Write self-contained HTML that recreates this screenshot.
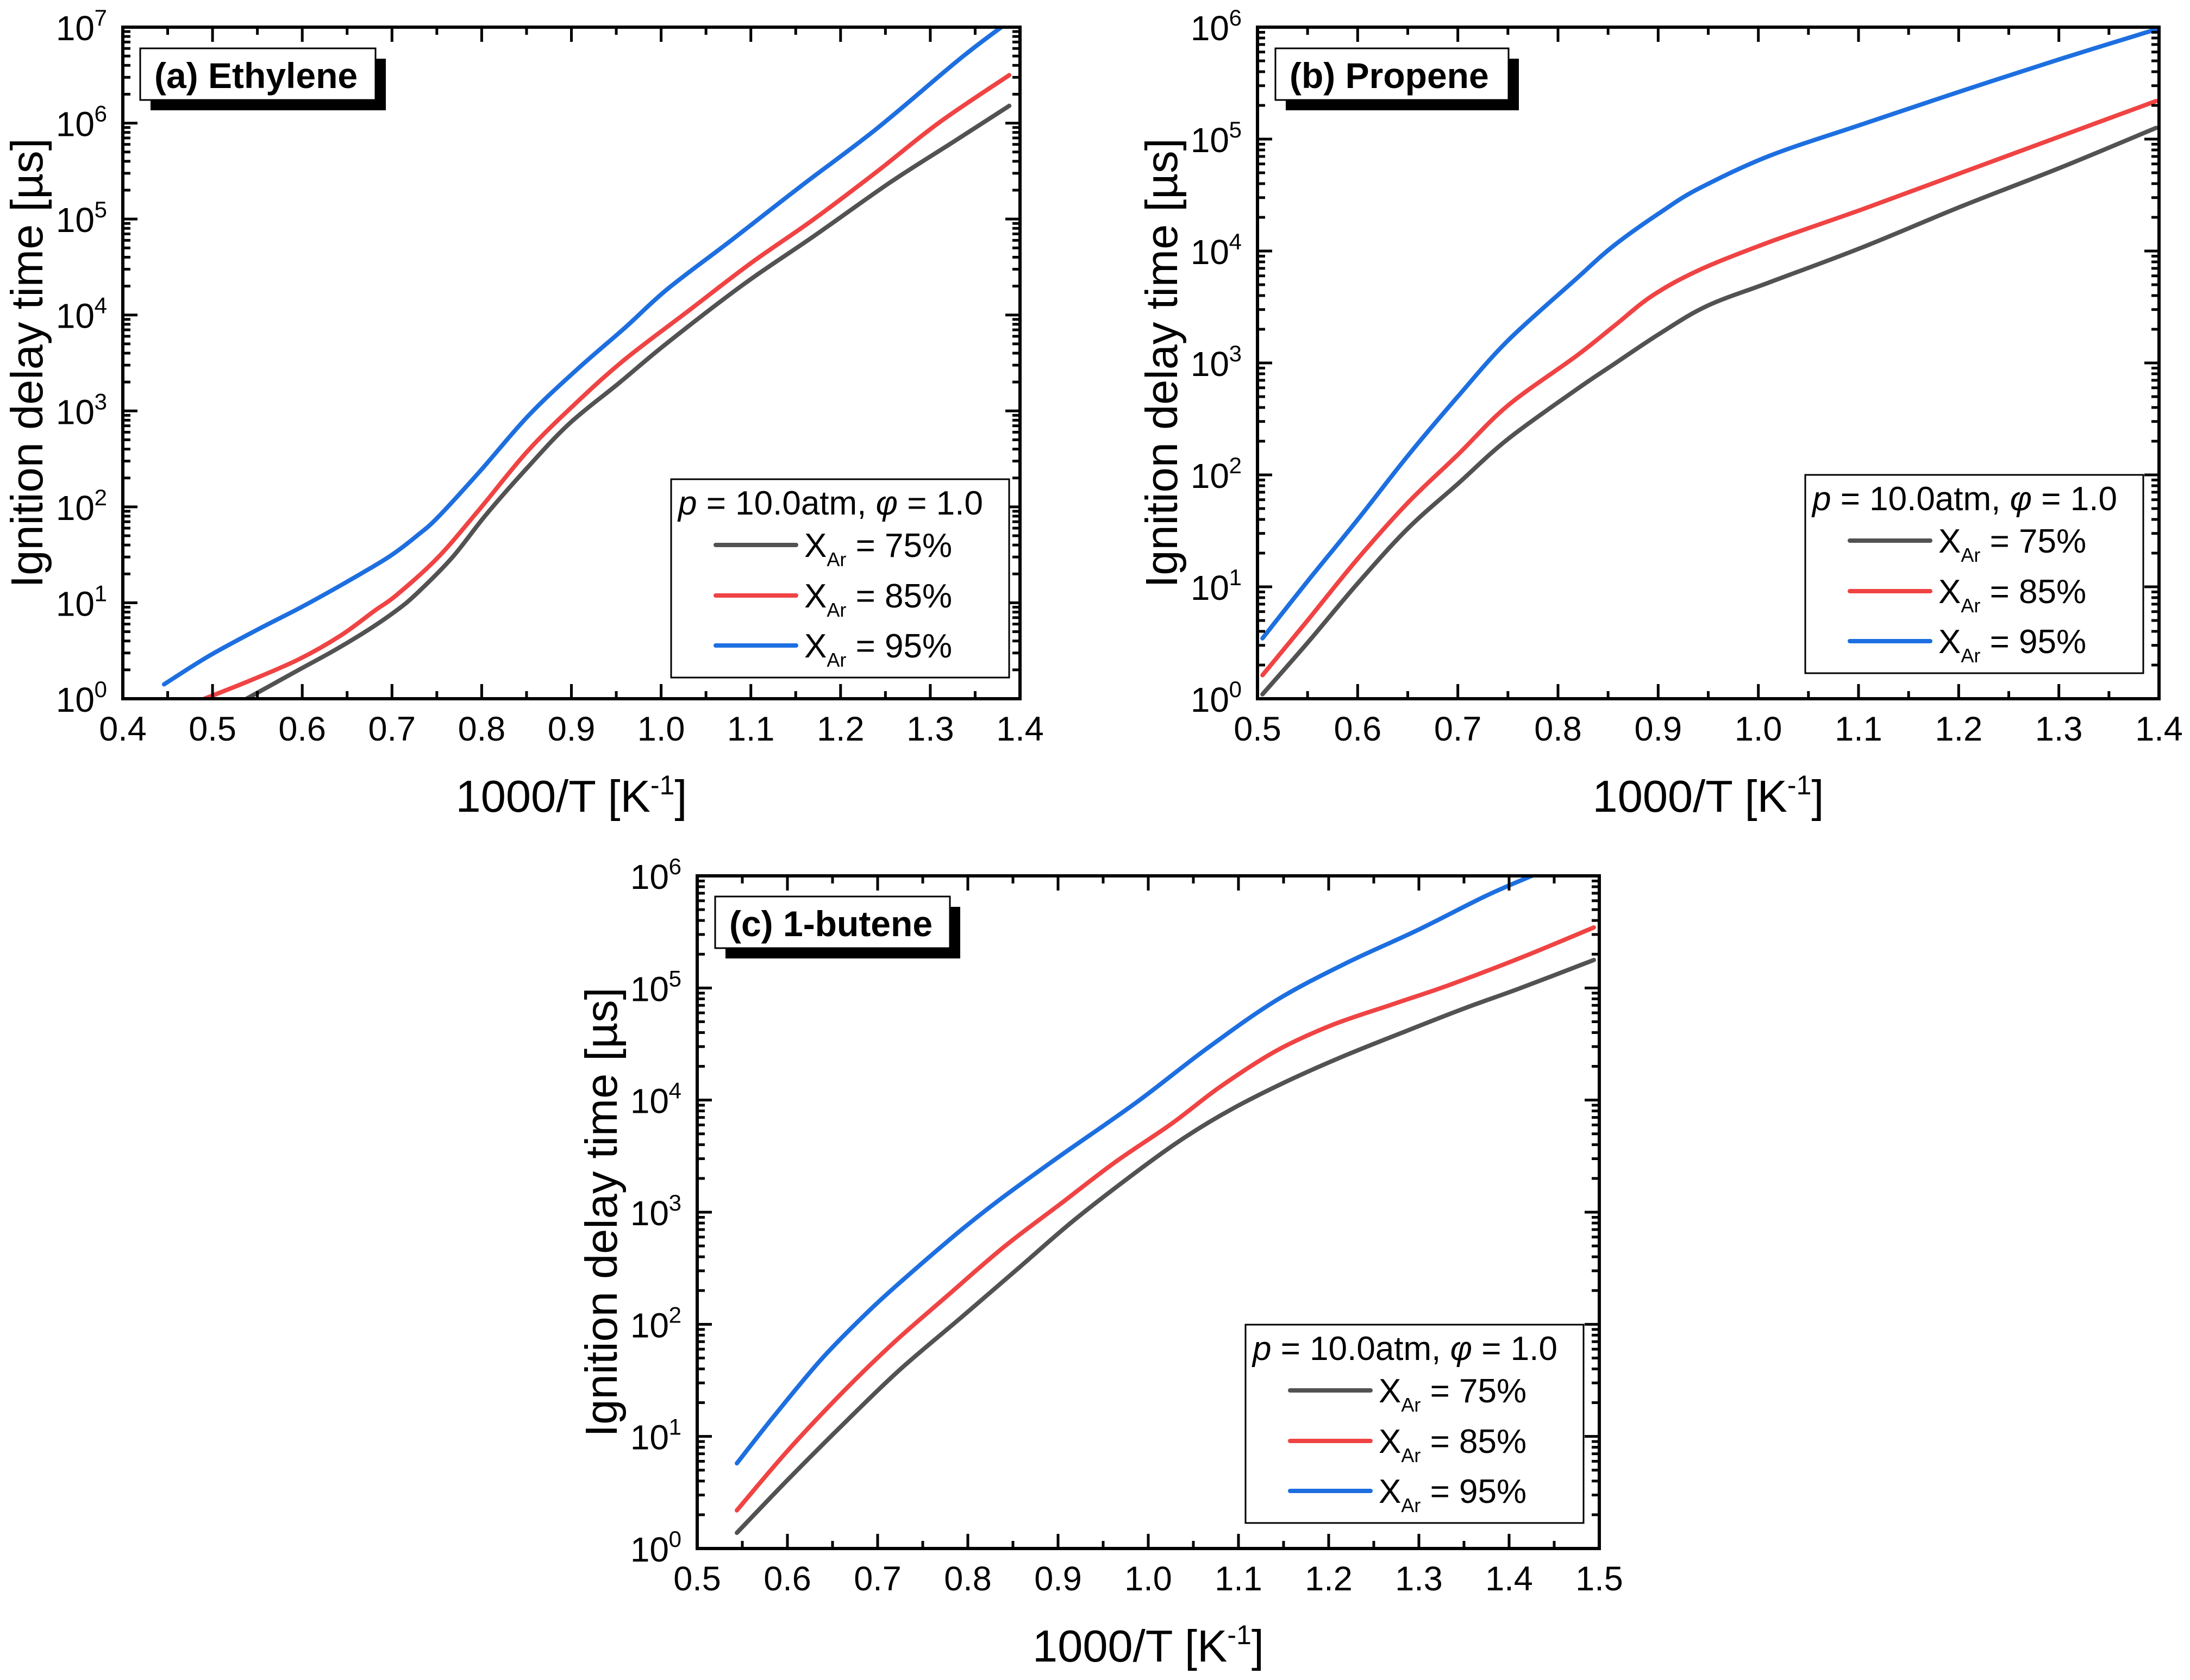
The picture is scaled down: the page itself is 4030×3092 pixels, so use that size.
<!DOCTYPE html>
<html><head><meta charset="utf-8"><style>
html,body{margin:0;padding:0;background:#fff}
svg{display:block}
text{font-family:"Liberation Sans",Arial,sans-serif;fill:#000}
</style></head><body>
<svg id="fig" xmlns="http://www.w3.org/2000/svg" width="4030" height="3092" viewBox="0 0 4030 3092">
<rect x="0" y="0" width="4030" height="3092" fill="#fff"/>
</svg>
<script>
// ---- Panel (a) Ethylene data: x = 1000/T, y = log10(ignition delay, us)
const aX75 = [0.538,0.596,0.635,0.674,0.705,0.728,0.767,0.805,0.852,0.898,0.953,1.007,1.092,1.17,1.255,1.325,1.388];
const aY75 = [0,0.30,0.50,0.72,0.92,1.10,1.47,1.92,2.42,2.87,3.29,3.71,4.32,4.82,5.38,5.80,6.18];
const aX85 = [0.491,0.542,0.596,0.643,0.681,0.705,0.751,0.798,0.852,0.906,0.96,1.03,1.1,1.169,1.24,1.309,1.388];
const aY85 = [0,0.19,0.41,0.66,0.92,1.08,1.47,1.98,2.59,3.09,3.54,4.04,4.54,4.99,5.49,6.0,6.50];
const aX95 = [0.446,0.495,0.55,0.596,0.635,0.674,0.70,0.728,0.751,0.798,0.852,0.906,0.96,1.007,1.077,1.154,1.24,1.333,1.385];
const aY95 = [0.15,0.44,0.72,0.94,1.14,1.35,1.50,1.70,1.89,2.37,2.95,3.43,3.87,4.27,4.77,5.33,5.94,6.67,7.04];
// ---- Panel (b) Propene
const bX75 = [0.505,0.55,0.6,0.65,0.7,0.75,0.818,0.856,0.903,0.949,1.011,1.103,1.203,1.303,1.397];
const bY75 = [0.04,0.5,1.03,1.52,1.92,2.32,2.76,2.99,3.27,3.51,3.72,4.03,4.40,4.75,5.10];
const bX85 = [0.505,0.55,0.6,0.65,0.7,0.75,0.818,0.856,0.894,0.941,1.011,1.103,1.203,1.303,1.397];
const bY85 = [0.21,0.7,1.25,1.75,2.18,2.62,3.06,3.33,3.60,3.83,4.08,4.37,4.70,5.03,5.34];
const bX95 = [0.505,0.55,0.6,0.65,0.7,0.75,0.818,0.856,0.903,0.941,1.011,1.103,1.203,1.303,1.397];
const bY95 = [0.54,1.05,1.6,2.17,2.7,3.2,3.75,4.05,4.35,4.56,4.85,5.13,5.43,5.72,5.98];
// ---- Panel (c) 1-butene
const cX75 = [0.544,0.6,0.662,0.724,0.794,0.856,0.918,0.987,1.041,1.095,1.157,1.219,1.281,1.351,1.413,1.494];
const cY75 = [0.14,0.61,1.11,1.59,2.07,2.50,2.93,3.36,3.67,3.93,4.18,4.40,4.60,4.82,5.00,5.25];
const cX85 = [0.544,0.6,0.662,0.717,0.778,0.84,0.902,0.964,1.026,1.08,1.142,1.204,1.273,1.335,1.413,1.494];
const cY85 = [0.34,0.87,1.40,1.83,2.26,2.69,3.07,3.45,3.79,4.12,4.44,4.67,4.86,5.03,5.27,5.54];
const cX95 = [0.544,0.585,0.639,0.693,0.74,0.794,0.84,0.902,0.987,1.065,1.142,1.219,1.297,1.374,1.428,1.44];
const cY95 = [0.76,1.18,1.70,2.14,2.48,2.85,3.14,3.50,3.98,4.46,4.89,5.22,5.51,5.82,6.01,6.05];
// ---- Tick labels
const xTicksA = ["0.4","0.5","0.6","0.7","0.8","0.9","1.0","1.1","1.2","1.3","1.4"];
const xTicksB = ["0.5","0.6","0.7","0.8","0.9","1.0","1.1","1.2","1.3","1.4"];
const xTicksC = ["0.5","0.6","0.7","0.8","0.9","1.0","1.1","1.2","1.3","1.4","1.5"];
const yExpA = ["0","1","2","3","4","5","6","7"];
const yExpBC = ["0","1","2","3","4","5","6"];
const legendLabels = ["75%","85%","95%"];
const colors = ["#525252","#f04343","#1d6fe0"];

const NS = "http://www.w3.org/2000/svg";
const svg = document.getElementById('fig');
function mk(tag, attrs, parent){
  const e = document.createElementNS(NS, tag);
  for (const k in attrs) e.setAttribute(k, attrs[k]);
  (parent||svg).appendChild(e);
  return e;
}
function smoothPath(pts){
  let d = 'M' + pts[0][0].toFixed(1) + ' ' + pts[0][1].toFixed(1);
  for (let i=0;i<pts.length-1;i++){
    const p0 = pts[Math.max(0,i-1)], p1 = pts[i], p2 = pts[i+1], p3 = pts[Math.min(pts.length-1,i+2)];
    const c1x = p1[0]+(p2[0]-p0[0])/6, c1y = p1[1]+(p2[1]-p0[1])/6;
    const c2x = p2[0]-(p3[0]-p1[0])/6, c2y = p2[1]-(p3[1]-p1[1])/6;
    d += ' C'+c1x.toFixed(1)+' '+c1y.toFixed(1)+' '+c2x.toFixed(1)+' '+c2y.toFixed(1)+' '+p2[0].toFixed(1)+' '+p2[1].toFixed(1);
  }
  return d;
}

function panel(cfg){
  const g = mk('g', {});
  
  
  const {L,R,T,B,x0,x1,nDec} = cfg;
  const sx = v => L + (v-x0)/(x1-x0)*(R-L);
  const sy = v => B - v/nDec*(B-T);
  const cid = cfg.name + '-clip';
  const defs = mk('defs', {}, g);
  const cp = mk('clipPath', {id: cid}, defs);
  mk('rect', {x:L, y:T, width:R-L, height:B-T}, cp);
  const series = mk('g', {'clip-path':'url(#'+cid+')'}, g);
  cfg.series.forEach((s,i)=>{
    const pts = s.x.map((xv,j)=>[sx(xv), sy(s.y[j])]);
    const p = mk('path', {d: smoothPath(pts), fill:'none', stroke: colors[i], 'stroke-width':8, 'stroke-linecap':'round', 'stroke-linejoin':'round'}, series);
    
    
  });
  const tk = mk('g', {stroke:'#000', 'stroke-width':5}, g);
  
  
  const nx = Math.round((x1-x0)/0.05);
  for (let i=0;i<=nx;i++){
    const xv = x0 + i*0.05, X = sx(xv), len = (i%2===0)?27:14;
    mk('line', {x1:X, y1:B, x2:X, y2:B-len}, tk);
    mk('line', {x1:X, y1:T, x2:X, y2:T+len}, tk);
  }
  for (let d=0; d<nDec; d++){
    for (let m=1;m<=9;m++){
      const Y = sy(d+Math.log10(m)), len = m===1?27:14;
      mk('line', {x1:L, y1:Y, x2:L+len, y2:Y}, tk);
      mk('line', {x1:R, y1:Y, x2:R-len, y2:Y}, tk);
    }
  }
  mk('line', {x1:L, y1:T, x2:L+27, y2:T}, tk);
  const fr = mk('rect', {x:L, y:T, width:R-L, height:B-T, fill:'none', stroke:'#000', 'stroke-width':6}, g);
  
  
  cfg.xTicks.forEach((lab,i)=>{
    const t = mk('text', {x: sx(parseFloat(lab)), y: B+77, 'font-size':63, 'text-anchor':'middle'}, g);
    t.textContent = lab;
    
    
  });
  cfg.yExp.forEach((e,i)=>{
    const Y = sy(parseInt(e));
    const t1 = mk('text', {x: L-52, y: Y+24, 'font-size':64, 'text-anchor':'end'}, g);
    t1.textContent = '10';
    
    
    const t2 = mk('text', {x: L-29, y: Y-3, 'font-size':42, 'text-anchor':'end'}, g);
    t2.textContent = e;
    
    
  });
  const xt = mk('text', {x:(L+R)/2, y:B+208, 'font-size':83, 'text-anchor':'middle'}, g);
  xt.innerHTML = '1000/T [K<tspan font-size="50" dy="-32">-1</tspan><tspan dy="32">]</tspan>';
  
  
  const yt = mk('text', {x:0, y:0, 'font-size':83, 'text-anchor':'middle', transform:'translate('+(L-148)+','+((T+B)/2)+') rotate(-90)'}, g);
  yt.textContent = 'Ignition delay time [µs]';
  
  
  const lb = cfg.label;
  const lg = mk('g', {}, g);
  
  
  mk('rect', {x:lb.x+19, y:lb.y+19, width:lb.w, height:95, fill:'#000'}, lg);
  mk('rect', {x:lb.x, y:lb.y, width:lb.w, height:95, fill:'#fff', stroke:'#000', 'stroke-width':3}, lg);
  const lt = mk('text', {x:lb.x+26, y:lb.y+73, 'font-size':66, 'font-weight':'bold'}, lg);
  lt.textContent = lb.text;
  const lx = cfg.leg.x, ly = cfg.leg.y;
  const leg = mk('g', {}, g);
  
  
  mk('rect', {x:lx, y:ly, width:622, height:365, fill:'#fff', stroke:'#000', 'stroke-width':3}, leg);
  const lt2 = mk('text', {x:lx+13, y:ly+65, 'font-size':62}, leg);
  lt2.innerHTML = '<tspan font-style="italic">p</tspan> = 10.0atm, <tspan font-style="italic">φ</tspan> = 1.0';
  
  
  const rows = [121,214,306];
  legendLabels.forEach((lab,i)=>{
    const ry = ly + rows[i];
    const ln = mk('line', {x1:lx+82, y1:ry, x2:lx+230, y2:ry, stroke:colors[i], 'stroke-width':8, 'stroke-linecap':'round'}, leg);
    
    
    const tt = mk('text', {x:lx+245, y:ry+22, 'font-size':62}, leg);
    tt.innerHTML = 'X<tspan font-size="36" dy="17">Ar</tspan><tspan dy="-17"> = ' + lab + '</tspan>';
    
    
  });
}

panel({name:'panel-a-ethylene', L:226, R:1877, T:50, B:1286, x0:0.4, x1:1.4, nDec:7,
  xTicks:xTicksA, yExp:yExpA,
  series:[{x:aX75,y:aY75},{x:aX85,y:aY85},{x:aX95,y:aY95}],
  label:{x:258, y:89, w:433, text:'(a) Ethylene'},
  leg:{x:1235, y:882}});
panel({name:'panel-b-propene', L:2314, R:3973, T:50, B:1286, x0:0.5, x1:1.4, nDec:6,
  xTicks:xTicksB, yExp:yExpBC,
  series:[{x:bX75,y:bY75},{x:bX85,y:bY85},{x:bX95,y:bY95}],
  label:{x:2347, y:89, w:429, text:'(b) Propene'},
  leg:{x:3322, y:874}});
panel({name:'panel-c-1-butene', L:1283, R:2943, T:1612, B:2850, x0:0.5, x1:1.5, nDec:6,
  xTicks:xTicksC, yExp:yExpBC,
  series:[{x:cX75,y:cY75},{x:cX85,y:cY85},{x:cX95,y:cY95}],
  label:{x:1316, y:1650, w:432, text:'(c) 1-butene'},
  leg:{x:2292, y:2438}});
</script>
</body></html>
